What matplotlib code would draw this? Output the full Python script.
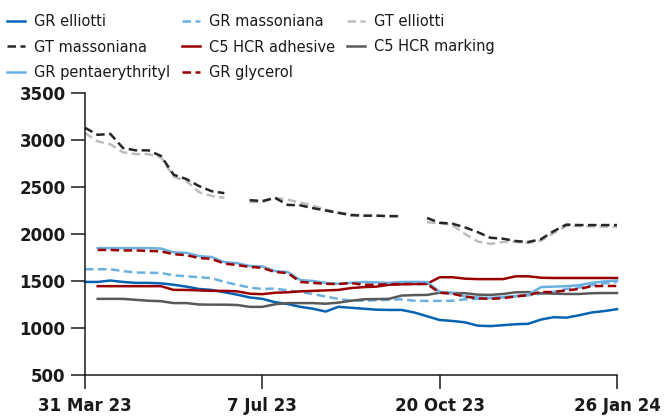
import numpy as np
import matplotlib
matplotlib.use("Agg")
import matplotlib.pyplot as plt

nan = np.nan

# Etiquetas del eje x (eje de categorias, 43 semanas)
etiquetas_x = ["31 Mar 23", "7 Jul 23", "20 Oct 23", "26 Jan 24"]
posiciones_x = [0, 14, 28, 42]

gr_elliotti = [1490, 1490, 1505, 1490, 1480, 1480, 1475, 1460, 1440, 1415,
               1405, 1380, 1355, 1325, 1310, 1275, 1255, 1225, 1205, 1175,
               1225, 1215, 1205, 1195, 1192, 1192, 1165, 1125, 1085, 1075,
               1060, 1025, 1020, 1030, 1040, 1045, 1090, 1115, 1110, 1135,
               1165, 1180, 1200]
gr_massoniana = [1625, 1625, 1625, 1605, 1590, 1588, 1585, 1560, 1550, 1540,
                 1530, 1490, 1460, 1430, 1415, 1420, 1400, 1385, 1360, 1335,
                 1310, 1290, 1290, 1295, 1300, 1305, 1290, 1288, 1288, 1290,
                 1305, 1310, 1318, 1325, 1338, 1348, 1365, 1385, 1415, 1430,
                 1455, 1475, 1490]
gt_elliotti = [3075, 2985, 2955, 2870, 2850, 2850, 2815, 2610, 2565, 2445,
               2405, 2385, nan, 2340, 2340, 2385, 2365, 2335, 2300, 2260,
               2230, 2210, 2195, 2195, 2190, 2190, nan, 2125, 2115, 2095,
               2000, 1920, 1895, 1915, 1915, 1905, 1930, 2010, 2085, 2085,
               2080, 2080, 2075]
gt_massoniana = [3130, 3055, 3065, 2915, 2890, 2890, 2830, 2630, 2585, 2510,
                 2455, 2435, nan, 2360, 2350, 2385, 2310, 2305, 2275, 2250,
                 2225, 2200, 2195, 2195, 2190, 2190, nan, 2170, 2120, 2110,
                 2070, 2020, 1960, 1950, 1925, 1915, 1945, 2030, 2100, 2095,
                 2095, 2095, 2095]
c5_adhesive = [nan, 1445, 1445, 1445, 1445, 1445, 1445, 1405, 1405, 1400,
               1395, 1395, 1390, 1365, 1360, 1375, 1380, 1390, 1395, 1400,
               1405, 1425, 1435, 1440, 1460, 1465, 1468, 1470, 1540, 1540,
               1525, 1520, 1520, 1520, 1550, 1550, 1535, 1532, 1532, 1532,
               1532, 1532, 1532]
c5_marking = [nan, 1310, 1310, 1310, 1300, 1290, 1285, 1265, 1265, 1250,
              1248, 1248, 1245, 1225, 1225, 1252, 1265, 1265, 1265, 1258,
              1270, 1290, 1305, 1308, 1310, 1345, 1350, 1352, 1375, 1372,
              1370, 1355, 1352, 1362, 1380, 1382, 1370, 1365, 1362, 1362,
              1370, 1372, 1372]
gr_penta = [nan, 1850, 1850, 1850, 1850, 1850, 1845, 1805, 1800, 1765,
            1755, 1700, 1690, 1660, 1655, 1605, 1595, 1510, 1500, 1480,
            1470, 1480, 1490, 1485, 1480, 1490, 1490, 1490, 1385, 1375,
            1335, 1325, 1320, 1330, 1340, 1355, 1435, 1440, 1445, 1455,
            1480, 1495, 1505]
gr_glycerol = [nan, 1830, 1830, 1825, 1825, 1820, 1815, 1785, 1775, 1745,
               1735, 1685, 1670, 1650, 1640, 1595, 1585, 1490, 1480, 1470,
               1468, 1478, 1460, 1460, 1465, 1468, 1468, 1468, 1375, 1365,
               1335, 1315, 1310, 1318, 1335, 1350, 1383, 1383, 1400, 1415,
               1445, 1447, 1447]

discontinua = (0, (3.4, 1.8))
series = [
    ("GR elliotti", gr_elliotti, "#0563b4", "-"),
    ("GR massoniana", gr_massoniana, "#6cb0e2", discontinua),
    ("GT elliotti", gt_elliotti, "#bdbdbd", discontinua),
    ("GT massoniana", gt_massoniana, "#262626", discontinua),
    ("C5 HCR adhesive", c5_adhesive, "#9b0000", "-"),
    ("C5 HCR marking", c5_marking, "#595959", "-"),
    ("GR pentaerythrityl", gr_penta, "#6cb0e2", "-"),
    ("GR glycerol", gr_glycerol, "#9b0000", discontinua),
]

fig = plt.figure(figsize=(6.66, 4.19), dpi=100)
ax = fig.add_axes([85 / 666, 1 - 375 / 419, (617 - 85) / 666, (375 - 93) / 419])

lineas = {}
for nombre, valores, color, estilo in series:
    x = np.arange(len(valores))
    l, = ax.plot(x, valores, color=color, linestyle=estilo, lw=1.8,
                 label=nombre, clip_on=False)
    lineas[nombre] = l

ax.set_xlim(0, 42)
ax.set_ylim(500, 3500)
ax.set_yticks(range(500, 3501, 500))
ax.set_xticks(posiciones_x)
ax.set_xticklabels(etiquetas_x)

for lado in ["top", "right"]:
    ax.spines[lado].set_visible(False)
for lado in ["left", "bottom"]:
    ax.spines[lado].set_linewidth(1.1)
    ax.spines[lado].set_color("#1a1a1a")

ax.tick_params(axis="y", length=10, width=1.1, pad=4, color="#1a1a1a")
ax.tick_params(axis="x", length=10, width=1.1, pad=6, color="#1a1a1a")
for t in ax.get_xticklabels() + ax.get_yticklabels():
    t.set_fontfamily("DejaVu Sans")
    t.set_fontweight("bold")
    t.set_fontsize(12)
    t.set_color("#1a1a1a")

# Leyenda en orden por filas (matplotlib llena por columnas)
orden = ["GR elliotti", "GT massoniana", "GR pentaerythrityl",
         "GR massoniana", "C5 HCR adhesive", "GR glycerol",
         "GT elliotti", "C5 HCR marking"]
fig.legend([lineas[n] for n in orden], orden, ncol=3, loc="upper left",
           bbox_to_anchor=(7 / 666, 1 - 14 / 419), frameon=False,
           prop={"family": "DejaVu Sans", "size": 10.5},
           labelcolor="#1a1a1a",
           handlelength=1.25, handletextpad=0.62, columnspacing=0.8,
           labelspacing=0.72, borderpad=0, borderaxespad=0)

fig.savefig("out.png", dpi=100)
